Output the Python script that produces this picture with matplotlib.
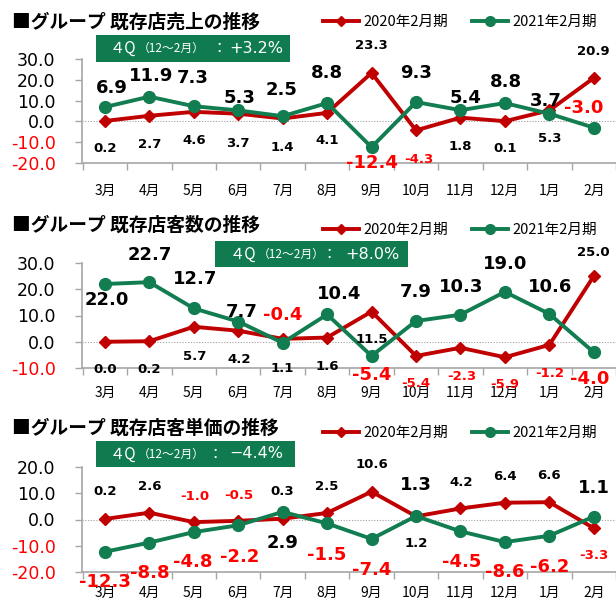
import matplotlib
matplotlib.use("Agg")
import matplotlib.pyplot as plt
from matplotlib.lines import Line2D
from matplotlib.patches import Rectangle

plt.rcParams['font.family'] = ['DejaVu Sans', 'Noto Sans CJK JP']

months = ["3月", "4月", "5月", "6月", "7月", "8月", "9月", "10月", "11月", "12月", "1月", "2月"]
series_names = ["2020年2月期", "2021年2月期"]

titles = ["■グループ 既存店売上の推移", "■グループ 既存店客数の推移", "■グループ 既存店客単価の推移"]
q4_values = ["+3.2%", "+8.0%", "−4.4%"]

sales_2020 = [0.2, 2.7, 4.6, 3.7, 1.4, 4.1, 23.3, -4.3, 1.8, 0.1, 5.3, 20.9]
sales_2021 = [6.9, 11.9, 7.3, 5.3, 2.5, 8.8, -12.4, 9.3, 5.4, 8.8, 3.7, -3.0]

cust_2020 = [0.0, 0.2, 5.7, 4.2, 1.1, 1.6, 11.5, -5.4, -2.3, -5.9, -1.2, 25.0]
cust_2021 = [22.0, 22.7, 12.7, 7.7, -0.4, 10.4, -5.4, 7.9, 10.3, 19.0, 10.6, -4.0]

price_2020 = [0.2, 2.6, -1.0, -0.5, 0.3, 2.5, 10.6, 1.2, 4.2, 6.4, 6.6, -3.3]
price_2021 = [-12.3, -8.8, -4.8, -2.2, 2.9, -1.5, -7.4, 1.3, -4.5, -8.6, -6.2, 1.1]

y_ticks = [[30, 20, 10, 0, -10, -20], [30, 20, 10, 0, -10], [20, 10, 0, -10, -20]]
y_lims = [(-20, 30), (-10, 30), (-20, 20)]

# label offsets in pixels (dx, dy downward)
off_g = [
    [(7, -19), (2, -21), (-1, -28), (1, -12), (-1, -26), (0, -30), (0, 16), (0, -29), (5, -12), (1, -21), (-4, -13), (-10, -20)],
    [(2, 16), (0, -27), (1, -29), (3, -10), (0, -28), (12, -20), (0, 19), (0, -29), (1, -28), (0, -28), (1, -27), (-4, 27)],
    [(0, 30), (0, 30), (-1, 30), (1, 32), (0, 31), (0, 32), (0, 31), (0, -31), (1, 31), (0, 30), (0, 31), (0, -29)],
]
off_r = [
    [(0, 28), (0, 29), (0, 29), (0, 30), (0, 29), (0, 28), (0, -27), (3, 29), (0, 29), (0, 27), (0, 28), (0, -26)],
    [(0, 28), (0, 28), (1, 30), (1, 29), (0, 30), (0, 29), (0, 28), (0, 28), (1, 29), (0, 27), (0, 29), (0, -24)],
    [(0, -27), (0, -26), (1, -26), (1, -25), (0, -27), (0, -26), (0, -27), (0, 27), (1, -26), (0, -26), (0, -27), (0, 27)],
]

W, H = 616, 599
RED = "#C00000"
GREEN = "#117D50"
BOXG = "#0F7B4F"
NEG = "#FF0000"
GRAY = "#A6A6A6"
JP = ['Noto Sans CJK JP', 'DejaVu Sans']

fig = plt.figure(figsize=(W / 100, H / 100), dpi=100)
fig.patch.set_facecolor("white")


def fx(x):
    return x / W


def fy(y):
    return 1 - y / H


panels = [
    dict(ax=(82, 59, 616, 163), title_y=22, leg_y=22, box=(96, 35, 290, 62), xpad=15,
         t=[(110, "４Q", 11), (138, "（12～2月）", 8.5), (212, "：", 11), (229, None, 11.5)]),
    dict(ax=(82, 263, 616, 368), title_y=225, leg_y=230, box=(215, 241, 408, 267), xpad=13,
         t=[(230, "４Q", 11), (258, "（12～2月）", 8.5), (322, "：", 11), (345, None, 11.5)]),
    dict(ax=(82, 467, 616, 572), title_y=428, leg_y=433, box=(96, 441, 295, 467), xpad=10,
         t=[(110, "４Q", 11), (138, "（12～2月）", 8.5), (208, "：", 11), (229, None, 11.5)]),
]
data = [(sales_2020, sales_2021), (cust_2020, cust_2021), (price_2020, price_2021)]

x = list(range(len(months)))

for i, p in enumerate(panels):
    l, t, r, b = p["ax"]
    ax = fig.add_axes([fx(l), fy(b), (r - l) / W, (b - t) / H])
    ax.set_facecolor("none")
    red, green = data[i]
    ax.axhline(0, color="#A0A0A0", lw=0.8, ls=(0, (1, 1.5)), zorder=1)
    ax.plot(x, red, color=RED, lw=2.8, marker="D", ms=6.5, zorder=3)
    ax.plot(x, green, color=GREEN, lw=2.8, marker="o", ms=8.5, zorder=4)
    ax.set_xlim(-0.515, 11.425)
    ax.set_ylim(*y_lims[i])
    ax.set_yticks(y_ticks[i])
    ax.set_yticklabels([f"{v:.1f}" for v in y_ticks[i]], fontsize=12.5)
    for lab, v in zip(ax.get_yticklabels(), y_ticks[i]):
        lab.set_color(NEG if v < 0 else "black")
    ax.set_xticks(x)
    ax.set_xticklabels(months, fontsize=10, family=JP)
    ax.set_xticks([k + 0.5 for k in range(-1, 12)], minor=True)
    ax.tick_params(axis="x", which="major", length=0, pad=p["xpad"])
    ax.tick_params(axis="x", which="minor", length=5, color=GRAY, width=1, direction="out")
    ax.tick_params(axis="y", length=5, color=GRAY, width=1, pad=14)
    for s in ["top", "right"]:
        ax.spines[s].set_visible(False)
    for s in ["left", "bottom"]:
        ax.spines[s].set_color(GRAY)
        ax.spines[s].set_linewidth(1.2)

    for k in range(12):
        v = green[k]
        dx, dy = off_g[i][k]
        ax.annotate(f"{v:.1f}", (k, v), xytext=(dx, -dy), textcoords="offset pixels",
                    ha="center", va="center", fontsize=13, fontweight="bold",
                    color=NEG if v < 0 else "black", zorder=6)
        v = red[k]
        dx, dy = off_r[i][k]
        ax.annotate(f"{v:.1f}", (k, v), xytext=(dx, -dy), textcoords="offset pixels",
                    ha="center", va="center", fontsize=9.5, fontweight="bold",
                    color=NEG if v < 0 else "black", zorder=6)

    # title
    fig.text(fx(12), fy(p["title_y"]), titles[i], ha="left", va="center",
             fontsize=13.5, fontweight="bold", family=JP)

    # legend
    handles = [Line2D([], [], color=RED, lw=2.8, marker="D", ms=5),
               Line2D([], [], color=GREEN, lw=2.8, marker="o", ms=7)]
    fig.legend(handles, series_names, loc="center", bbox_to_anchor=(fx(460), fy(p["leg_y"])),
               ncol=2, frameon=False, prop=dict(family=JP, size=10.5),
               handlelength=2.5, handletextpad=0.3, columnspacing=1.6, borderpad=0)

    # 4Q box
    bl, bt, br, bb = p["box"]
    fig.add_artist(Rectangle((fx(bl), fy(bb)), (br - bl) / W, (bb - bt) / H,
                             transform=fig.transFigure, facecolor=BOXG, edgecolor="none", zorder=5))
    cy = fy((bt + bb) / 2)
    for (tx, txt, fs) in p["t"]:
        if txt is None:
            txt = q4_values[i]
            fam = ['DejaVu Sans']
        else:
            fam = JP
        fig.text(fx(tx), cy, txt, ha="left", va="center", fontsize=fs, color="white",
                 family=fam, zorder=6)

fig.savefig("out.png", dpi=100)
